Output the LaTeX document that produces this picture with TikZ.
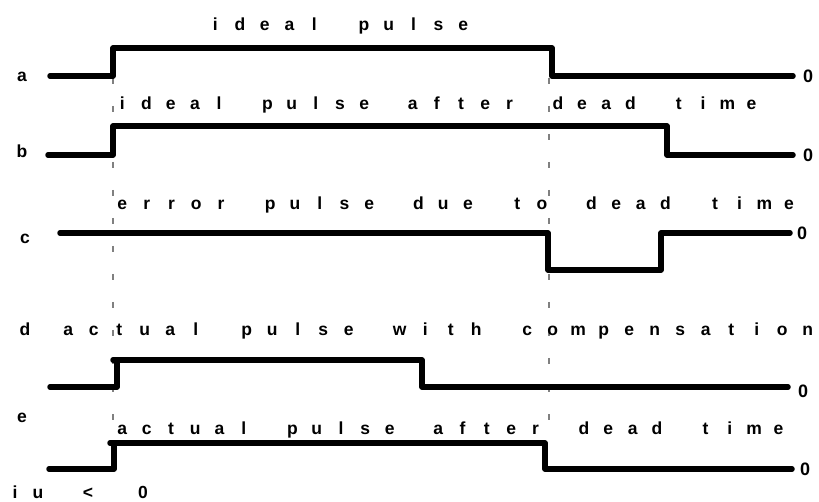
\documentclass[tikz,border=0pt]{standalone}
\usepackage{fontspec}
\setmainfont{Liberation Sans}
\ExplSyntaxOn
\NewDocumentCommand \slots { m m } { \str_map_inline:nn {#2} { \makebox[#1][c]{##1} } }
\ExplSyntaxOff
\tikzset{
  wave/.style={line width=5.5pt, line cap=round, line join=round},
  guide/.style={gray, line width=1.1pt, dash pattern=on 6pt off 22pt},
  slottext/.style={anchor=base west, inner sep=0pt, font=\bfseries\fontsize{17.5}{19}\selectfont},
  lab/.style={anchor=base, inner sep=0pt, font=\bfseries\fontsize{17.5}{20}\selectfont},
  zero/.style={anchor=base, inner sep=0pt, font=\bfseries\fontsize{18}{20}\selectfont}
}
\begin{document}
\begin{tikzpicture}[x=1pt,y=-1pt]
\useasboundingbox (0,0) rectangle (819,502);
% guides
\coordinate (g1a) at (113,78); \coordinate (g1b) at (113,440);
\coordinate (g2a) at (549,78); \coordinate (g2b) at (549,440);
\draw[guide] (g1a) -- (g1b);
\draw[guide] (g2a) -- (g2b);
% waveforms
\draw[wave] (50,76) -- (113,76) -- (113,48) -- (552,48) -- (552,76) -- (793,76);
\draw[wave] (48,155) -- (113,155) -- (113,126) -- (667,126) -- (667,155) -- (793,155);
\draw[wave] (60,233) -- (548,233) -- (548,270) -- (661,270) -- (661,233) -- (790,233);
\draw[wave] (50,387) -- (117,387) -- (117,360);
\draw[wave] (113,360) -- (422,360) -- (422,387) -- (788,387);
\draw[wave] (49,469) -- (114,469) -- (114,443);
\draw[wave] (110,443) -- (545,443) -- (545,469) -- (792,469);
% texts
\node[slottext] (t1) at (202.6,31) {\slots{24.8pt}{ideal pulse}};
\node[slottext] (t2) at (110,110) {\slots{24.2pt}{ideal pulse after dead time}};
\node[slottext] (t3) at (109.6,210) {\slots{24.7pt}{error pulse due to dead time}};
\node[slottext] (t4) at (55.3,336) {\slots{25.5pt}{actual pulse with compensation}};
\node[slottext] (t5) at (110,434) {\slots{24.3pt}{actual pulse after dead time}};
% labels
\node[lab] (la) at (22,82) {a};
\node[lab] (lb) at (22,158) {b};
\node[lab] (lc) at (25,244) {c};
\node[lab] (ld) at (25,336) {d};
\node[lab] (le) at (22,422) {e};
% zeros
\node[zero] (za) at (808,83) {0};
\node[zero] (zb) at (808,162) {0};
\node[zero] (zc) at (802,240) {0};
\node[zero] (zd) at (803,397) {0};
\node[zero] (ze) at (805,475) {0};
% bottom note
\node[lab] (n1) at (15,498) {i};
\node[lab] (n2) at (38,498) {u};
\node[lab] (n3) at (88,498) {<};
\node[lab] (n4) at (143,498) {0};
\end{tikzpicture}
\end{document}
